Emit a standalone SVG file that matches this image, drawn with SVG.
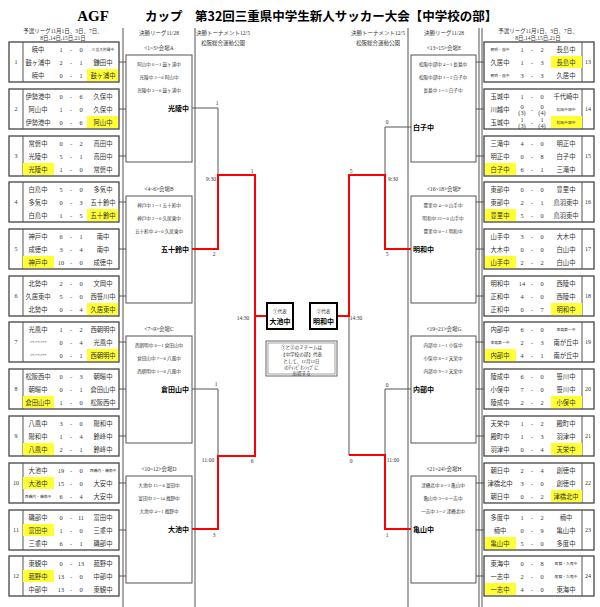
<svg xmlns="http://www.w3.org/2000/svg" width="600" height="607" viewBox="0 0 600 607">
<style>
text{font-family:"Liberation Serif","Noto Sans CJK JP",serif;fill:#333}
.t{font-size:6.3px;text-anchor:middle}
.ts{font-size:3.8px;text-anchor:middle}
.n{font-size:6px;text-anchor:middle}
.h{font-size:5.5px;text-anchor:middle}
.m{font-size:4.6px;text-anchor:middle}
.w{font-size:7px;font-weight:bold;fill:#000;font-family:"Noto Sans CJK JP",sans-serif}
.gb{fill:#fff;stroke:#444;stroke-width:1.3}
.sb{fill:#fff;stroke:#555;stroke-width:1}
.ln{stroke:#555;stroke-width:1;fill:none}
.rd{stroke:#f00;stroke-width:2;fill:none}
.hl{fill:#ffff33}
.lb{font-size:5.5px;text-anchor:middle;fill:#333}
</style>
<rect width="600" height="607" fill="#fff"/>
<text x="93" y="21" style="font-size:15px;font-weight:bold;fill:#000;text-anchor:middle;font-family:'Liberation Serif',serif">AGF</text>
<text x="145" y="21" style="font-size:12.5px;font-weight:bold;fill:#000;font-family:'Noto Sans CJK JP',sans-serif">カップ　第32回三重県中学生新人サッカー大会【中学校の部】</text>
<g id="headers">
<text class="h" x="63" y="33">予選リーグ11月1日、3日、7日、</text><text class="h" x="63" y="40">8日,14日,15日,21日</text>
<text class="h" x="159" y="35">決勝リーグ11/28</text><text class="h" x="159" y="50">&lt;1~3&gt;会場A</text>
<text class="h" x="223" y="35">決勝トーナメント12/5</text><text class="h" x="223" y="45">松阪総合運動公園</text>
<text class="h" x="378" y="35">決勝トーナメント12/5</text><text class="h" x="378" y="45">松阪総合運動公園</text>
<text class="h" x="444" y="35">決勝リーグ11/28</text><text class="h" x="444" y="50">&lt;13~15&gt;会場E</text>
<text class="h" x="538" y="33">予選リーグ11月1日、3日、7日、</text><text class="h" x="538" y="40">8日,14日,15日,21日</text>
<text class="h" x="159" y="191">&lt;4~6&gt;会場B</text><text class="h" x="159" y="331">&lt;7~9&gt;会場C</text><text class="h" x="159" y="471">&lt;10~12&gt;会場D</text>
<text class="h" x="444" y="191">&lt;16~18&gt;会場F</text><text class="h" x="444" y="331">&lt;19~21&gt;会場G</text><text class="h" x="444" y="471">&lt;21~24&gt;会場H</text>
</g>
<g id="connectors">
<line class="ln" x1="123" y1="28" x2="123" y2="607"/><line class="ln" x1="195" y1="28" x2="195" y2="607"/>
<line class="ln" x1="408" y1="28" x2="408" y2="607"/><line class="ln" x1="479" y1="28" x2="479" y2="607"/><line class="ln" x1="482" y1="28" x2="482" y2="607"/>
<path class="ln" d="M119 62H126M119 109H126M119 156H126M119 202H126M119 249H126M119 296H126M119 342H126M119 389H126M119 436H126M119 483H126M119 530H126M119 576H126"/>
<path class="ln" d="M476 62H484M476 109H484M476 156H484M476 202H484M476 249H484M476 296H484M476 342H484M476 389H484M476 436H484M476 483H484M476 530H484M476 576H484"/>
<path class="ln" d="M192 108H218V175M192 389H218V456"/>
<path class="rd" d="M192 249H218V175H255V456H218V529H192M255 316H267"/>
<path class="ln" d="M411 127H385V175M411 389H385V455M349 316V455"/>
<path class="rd" d="M411 249H385V175H349V316H337M411 529H385V455H349"/>
<text class="lb" x="217" y="105">1</text><text class="lb" x="214" y="256">2</text><text class="lb" x="211" y="181">9:30</text>
<text class="lb" x="252" y="173">1</text><text class="lb" x="243" y="320">14:30</text><text class="lb" x="252" y="463">6</text>
<text class="lb" x="216" y="386">1</text><text class="lb" x="208" y="462">11:00</text><text class="lb" x="214" y="537">3</text>
<text class="lb" x="387" y="124">0</text><text class="lb" x="387" y="256">5</text><text class="lb" x="393" y="181">9:30</text>
<text class="lb" x="351" y="173">5</text><text class="lb" x="356" y="320">14:30</text><text class="lb" x="351" y="463">0</text>
<text class="lb" x="387" y="387">0</text><text class="lb" x="393" y="462">11:00</text><text class="lb" x="387" y="537">1</text>
</g>
<g id="final1"><rect x="267" y="303" width="26" height="26" fill="#fff" stroke="#000" stroke-width="2"/><text class="m" x="280" y="313">①代表</text><text class="w" x="280" y="324" text-anchor="middle">大池中</text></g>
<g id="final2"><rect x="310" y="303" width="27" height="26" fill="#fff" stroke="#000" stroke-width="2"/><text class="m" x="323.5" y="313">②代表</text><text class="w" x="323.5" y="324" text-anchor="middle">明和中</text></g>
<g id="note"><rect x="266" y="341" width="71" height="35" fill="#fff" stroke="#666" stroke-width="1"/><rect x="268" y="343" width="67" height="31" fill="none" stroke="#666" stroke-width="0.6"/>
<text class="m" x="301.5" y="349">①と②の２チームは</text><text class="m" x="301.5" y="356">【中学校の部】代表</text><text class="m" x="301.5" y="363">として、12月12日</text><text class="m" x="301.5" y="369">のﾁｬﾝﾋﾟｵﾝｼｯﾌﾟに</text><text class="m" x="301.5" y="375">出場する</text></g>
<g id="stageA"><rect class="sb" x="126" y="55" width="66" height="107"/><text class="m" x="159" y="66">阿山中 6－1 鼓ヶ浦中</text><text class="m" x="159" y="79">光陵中 2－0 阿山中</text><text class="m" x="159" y="92">光陵中 3－0 鼓ヶ浦中</text><text class="w" x="189" y="111" text-anchor="end">光陵中</text></g>
<g id="stageB"><rect class="sb" x="126" y="196" width="66" height="107"/><text class="m" x="159" y="207">神戸中 1－1 五十鈴中</text><text class="m" x="159" y="220">神戸中 2－0 久居東中</text><text class="m" x="159" y="233">五十鈴中 4－0 久居東中</text><text class="w" x="189" y="252" text-anchor="end">五十鈴中</text></g>
<g id="stageC"><rect class="sb" x="126" y="336" width="66" height="107"/><text class="m" x="159" y="347">西朝明中 0－1 倉田山中</text><text class="m" x="159" y="360">倉田山中 7－0 八風中</text><text class="m" x="159" y="373">西朝明中 1－0 八風中</text><text class="w" x="189" y="392" text-anchor="end">倉田山中</text></g>
<g id="stageD"><rect class="sb" x="126" y="476" width="66" height="107"/><text class="m" x="159" y="487">大池中 15－0 富田中</text><text class="m" x="159" y="500">富田中 3－14 菰野中</text><text class="m" x="159" y="513">大池中 4－1 菰野中</text><text class="w" x="189" y="532" text-anchor="end">大池中</text></g>
<g id="stageE"><rect class="sb" x="411" y="55" width="65" height="107"/><text class="m" x="443" y="66">松阪中部中 4－1 長島中</text><text class="m" x="443" y="79">松阪中部中 1－2 白子中</text><text class="m" x="443" y="92">長島中 1－5 白子中</text><text class="w" x="413" y="130">白子中</text></g>
<g id="stageF"><rect class="sb" x="411" y="196" width="65" height="107"/><text class="m" x="443" y="207">豊里中 4－0 山手中</text><text class="m" x="443" y="220">明和中 22－0 山手中</text><text class="m" x="443" y="233">豊里中 0－1 明和中</text><text class="w" x="413" y="252">明和中</text></g>
<g id="stageG"><rect class="sb" x="411" y="336" width="65" height="107"/><text class="m" x="443" y="347">内部中 1－1 小俣中</text><text class="m" x="443" y="360">小俣中 8－2 天栄中</text><text class="m" x="443" y="373">内部中 9－2 天栄中</text><text class="w" x="413" y="392">内部中</text></g>
<g id="stageH"><rect class="sb" x="411" y="476" width="65" height="107"/><text class="m" x="443" y="487">津橋北中 0－3 亀山中</text><text class="m" x="443" y="500">亀山中 3－0 一志中</text><text class="m" x="443" y="513">一志中 3－2 津橋北中</text><text class="w" x="413" y="532">亀山中</text></g>

<g id="g1" transform="translate(0,42)"><rect class="gb" x="9" width="110" height="40"/><line class="ln" x1="23" y1="0" x2="23" y2="40"/><text class="n" x="16" y="22">1</text><rect class="hl" x="87" y="27" width="31" height="12"/>
<text class="t" x="38" y="9.5">暁中</text><text class="t" x="61" y="9.5">1</text><text class="t" x="71" y="9.5">-</text><text class="t" x="81" y="9.5">0</text><text class="ts" x="103" y="9">三重大附属中</text>
<text class="t" x="38" y="22.5">鼓ヶ浦中</text><text class="t" x="61" y="22.5">2</text><text class="t" x="71" y="22.5">-</text><text class="t" x="81" y="22.5">1</text><text class="t" x="103" y="22.5">鎌田中</text>
<text class="t" x="38" y="35.5">暁中</text><text class="t" x="61" y="35.5">0</text><text class="t" x="71" y="35.5">-</text><text class="t" x="81" y="35.5">1</text><text class="t" x="103" y="35.5">鼓ヶ浦中</text></g>
<g id="g2" transform="translate(0,89)"><rect class="gb" x="9" width="110" height="40"/><line class="ln" x1="23" y1="0" x2="23" y2="40"/><text class="n" x="16" y="22">2</text><rect class="hl" x="87" y="27" width="31" height="12"/>
<text class="t" x="38" y="9.5">伊勢港中</text><text class="t" x="61" y="9.5">0</text><text class="t" x="71" y="9.5">-</text><text class="t" x="81" y="9.5">6</text><text class="t" x="103" y="9.5">久保中</text>
<text class="t" x="38" y="22.5">阿山中</text><text class="t" x="61" y="22.5">1</text><text class="t" x="71" y="22.5">-</text><text class="t" x="81" y="22.5">0</text><text class="t" x="103" y="22.5">久保中</text>
<text class="t" x="38" y="35.5">伊勢港中</text><text class="t" x="61" y="35.5">0</text><text class="t" x="71" y="35.5">-</text><text class="t" x="81" y="35.5">6</text><text class="t" x="103" y="35.5">阿山中</text></g>
<g id="g3" transform="translate(0,136)"><rect class="gb" x="9" width="110" height="40"/><line class="ln" x1="23" y1="0" x2="23" y2="40"/><text class="n" x="16" y="22">3</text><rect class="hl" x="23" y="27" width="31" height="12"/>
<text class="t" x="38" y="9.5">常磐中</text><text class="t" x="61" y="9.5">0</text><text class="t" x="71" y="9.5">-</text><text class="t" x="81" y="9.5">2</text><text class="t" x="103" y="9.5">高田中</text>
<text class="t" x="38" y="22.5">光陵中</text><text class="t" x="61" y="22.5">5</text><text class="t" x="71" y="22.5">-</text><text class="t" x="81" y="22.5">1</text><text class="t" x="103" y="22.5">高田中</text>
<text class="t" x="38" y="35.5">光陵中</text><text class="t" x="61" y="35.5">1</text><text class="t" x="71" y="35.5">-</text><text class="t" x="81" y="35.5">0</text><text class="t" x="103" y="35.5">常磐中</text></g>
<g id="g4" transform="translate(0,182)"><rect class="gb" x="9" width="110" height="40"/><line class="ln" x1="23" y1="0" x2="23" y2="40"/><text class="n" x="16" y="22">4</text><rect class="hl" x="87" y="27" width="31" height="12"/>
<text class="t" x="38" y="9.5">白鳥中</text><text class="t" x="61" y="9.5">5</text><text class="t" x="71" y="9.5">-</text><text class="t" x="81" y="9.5">0</text><text class="t" x="103" y="9.5">多気中</text>
<text class="t" x="38" y="22.5">多気中</text><text class="t" x="61" y="22.5">0</text><text class="t" x="71" y="22.5">-</text><text class="t" x="81" y="22.5">3</text><text class="t" x="103" y="22.5">五十鈴中</text>
<text class="t" x="38" y="35.5">白鳥中</text><text class="t" x="61" y="35.5">1</text><text class="t" x="71" y="35.5">-</text><text class="t" x="81" y="35.5">5</text><text class="t" x="103" y="35.5">五十鈴中</text></g>
<g id="g5" transform="translate(0,229)"><rect class="gb" x="9" width="110" height="40"/><line class="ln" x1="23" y1="0" x2="23" y2="40"/><text class="n" x="16" y="22">5</text><rect class="hl" x="23" y="27" width="31" height="12"/>
<text class="t" x="38" y="9.5">神戸中</text><text class="t" x="61" y="9.5">6</text><text class="t" x="71" y="9.5">-</text><text class="t" x="81" y="9.5">1</text><text class="t" x="103" y="9.5">南中</text>
<text class="t" x="38" y="22.5">成徳中</text><text class="t" x="61" y="22.5">3</text><text class="t" x="71" y="22.5">-</text><text class="t" x="81" y="22.5">4</text><text class="t" x="103" y="22.5">南中</text>
<text class="t" x="38" y="35.5">神戸中</text><text class="t" x="61" y="35.5">10</text><text class="t" x="71" y="35.5">-</text><text class="t" x="81" y="35.5">0</text><text class="t" x="103" y="35.5">成徳中</text></g>
<g id="g6" transform="translate(0,276)"><rect class="gb" x="9" width="110" height="40"/><line class="ln" x1="23" y1="0" x2="23" y2="40"/><text class="n" x="16" y="22">6</text><rect class="hl" x="87" y="27" width="31" height="12"/>
<text class="t" x="38" y="9.5">北勢中</text><text class="t" x="61" y="9.5">2</text><text class="t" x="71" y="9.5">-</text><text class="t" x="81" y="9.5">0</text><text class="t" x="103" y="9.5">文岡中</text>
<text class="t" x="38" y="22.5">久居東中</text><text class="t" x="61" y="22.5">5</text><text class="t" x="71" y="22.5">-</text><text class="t" x="81" y="22.5">0</text><text class="t" x="103" y="22.5">西笹川中</text>
<text class="t" x="38" y="35.5">北勢中</text><text class="t" x="61" y="35.5">0</text><text class="t" x="71" y="35.5">-</text><text class="t" x="81" y="35.5">4</text><text class="t" x="103" y="35.5">久居東中</text></g>
<g id="g7" transform="translate(0,322)"><rect class="gb" x="9" width="110" height="40"/><line class="ln" x1="23" y1="0" x2="23" y2="40"/><text class="n" x="16" y="22">7</text><rect class="hl" x="87" y="27" width="31" height="12"/>
<text class="t" x="38" y="9.5">光風中</text><text class="t" x="61" y="9.5">1</text><text class="t" x="71" y="9.5">-</text><text class="t" x="81" y="9.5">2</text><text class="t" x="103" y="9.5">西朝明中</text>
<text class="ts" x="38" y="22">-**-**-***</text><text class="t" x="61" y="22.5">0</text><text class="t" x="71" y="22.5">-</text><text class="t" x="81" y="22.5">4</text><text class="t" x="103" y="22.5">光風中</text>
<text class="ts" x="38" y="35">-**-**-***</text><text class="t" x="61" y="35.5">0</text><text class="t" x="71" y="35.5">-</text><text class="t" x="81" y="35.5">1</text><text class="t" x="103" y="35.5">西朝明中</text></g>
<g id="g8" transform="translate(0,369)"><rect class="gb" x="9" width="110" height="40"/><line class="ln" x1="23" y1="0" x2="23" y2="40"/><text class="n" x="16" y="22">8</text><rect class="hl" x="23" y="27" width="31" height="12"/>
<text class="t" x="38" y="9.5">松阪西中</text><text class="t" x="61" y="9.5">0</text><text class="t" x="71" y="9.5">-</text><text class="t" x="81" y="9.5">3</text><text class="t" x="103" y="9.5">朝暘中</text>
<text class="t" x="38" y="22.5">朝暘中</text><text class="t" x="61" y="22.5">0</text><text class="t" x="71" y="22.5">-</text><text class="t" x="81" y="22.5">1</text><text class="t" x="103" y="22.5">倉田山中</text>
<text class="t" x="38" y="35.5">倉田山中</text><text class="t" x="61" y="35.5">1</text><text class="t" x="71" y="35.5">-</text><text class="t" x="81" y="35.5">0</text><text class="t" x="103" y="35.5">松阪西中</text></g>
<g id="g9" transform="translate(0,416)"><rect class="gb" x="9" width="110" height="40"/><line class="ln" x1="23" y1="0" x2="23" y2="40"/><text class="n" x="16" y="22">9</text><rect class="hl" x="23" y="27" width="31" height="12"/>
<text class="t" x="38" y="9.5">八風中</text><text class="t" x="61" y="9.5">3</text><text class="t" x="71" y="9.5">-</text><text class="t" x="81" y="9.5">0</text><text class="t" x="103" y="9.5">陽和中</text>
<text class="t" x="38" y="22.5">陽和中</text><text class="t" x="61" y="22.5">1</text><text class="t" x="71" y="22.5">-</text><text class="t" x="81" y="22.5">4</text><text class="t" x="103" y="22.5">鈴峰中</text>
<text class="t" x="38" y="35.5">八風中</text><text class="t" x="61" y="35.5">2</text><text class="t" x="71" y="35.5">-</text><text class="t" x="81" y="35.5">1</text><text class="t" x="103" y="35.5">鈴峰中</text></g>
<g id="g10" transform="translate(0,463)"><rect class="gb" x="9" width="110" height="40"/><line class="ln" x1="23" y1="0" x2="23" y2="40"/><text class="n" x="16" y="22">10</text><rect class="hl" x="23" y="14" width="31" height="12"/>
<text class="t" x="38" y="9.5">大池中</text><text class="t" x="61" y="9.5">19</text><text class="t" x="71" y="9.5">-</text><text class="t" x="81" y="9.5">0</text><text class="ts" x="103" y="9">西橋内・橋南中</text>
<text class="t" x="38" y="22.5">大池中</text><text class="t" x="61" y="22.5">15</text><text class="t" x="71" y="22.5">-</text><text class="t" x="81" y="22.5">0</text><text class="t" x="103" y="22.5">大安中</text>
<text class="ts" x="38" y="35">西橋内・橋南中</text><text class="t" x="61" y="35.5">6</text><text class="t" x="71" y="35.5">-</text><text class="t" x="81" y="35.5">4</text><text class="t" x="103" y="35.5">大安中</text></g>
<g id="g11" transform="translate(0,510)"><rect class="gb" x="9" width="110" height="40"/><line class="ln" x1="23" y1="0" x2="23" y2="40"/><text class="n" x="16" y="22">11</text><rect class="hl" x="23" y="14" width="31" height="12"/>
<text class="t" x="38" y="9.5">磯部中</text><text class="t" x="61" y="9.5">0</text><text class="t" x="71" y="9.5">-</text><text class="t" x="81" y="9.5">11</text><text class="t" x="103" y="9.5">富田中</text>
<text class="t" x="38" y="22.5">富田中</text><text class="t" x="61" y="22.5">1</text><text class="t" x="71" y="22.5">-</text><text class="t" x="81" y="22.5">0</text><text class="t" x="103" y="22.5">三重中</text>
<text class="t" x="38" y="35.5">三重中</text><text class="t" x="61" y="35.5">6</text><text class="t" x="71" y="35.5">-</text><text class="t" x="81" y="35.5">1</text><text class="t" x="103" y="35.5">磯部中</text></g>
<g id="g12" transform="translate(0,556)"><rect class="gb" x="9" width="110" height="40"/><line class="ln" x1="23" y1="0" x2="23" y2="40"/><text class="n" x="16" y="22">12</text><rect class="hl" x="23" y="14" width="31" height="12"/>
<text class="t" x="38" y="9.5">東観中</text><text class="t" x="61" y="9.5">0</text><text class="t" x="71" y="9.5">-</text><text class="t" x="81" y="9.5">13</text><text class="t" x="103" y="9.5">菰野中</text>
<text class="t" x="38" y="22.5">菰野中</text><text class="t" x="61" y="22.5">13</text><text class="t" x="71" y="22.5">-</text><text class="t" x="81" y="22.5">0</text><text class="t" x="103" y="22.5">中部中</text>
<text class="t" x="38" y="35.5">中部中</text><text class="t" x="61" y="35.5">13</text><text class="t" x="71" y="35.5">-</text><text class="t" x="81" y="35.5">0</text><text class="t" x="103" y="35.5">東観中</text></g>

<g id="g13" transform="translate(0,42)"><rect class="gb" x="484" width="110" height="40"/><line class="ln" x1="582" y1="0" x2="582" y2="40"/><text class="n" x="588" y="22">13</text><rect class="hl" x="551" y="14" width="31" height="12"/>
<text class="ts" x="500" y="9">朝明・桜中</text><text class="t" x="522" y="9.5">1</text><text class="t" x="532" y="9.5">-</text><text class="t" x="542" y="9.5">2</text><text class="t" x="566" y="9.5">長島中</text>
<text class="t" x="500" y="22.5">久居中</text><text class="t" x="522" y="22.5">1</text><text class="t" x="532" y="22.5">-</text><text class="t" x="542" y="22.5">3</text><text class="t" x="566" y="22.5">長島中</text>
<text class="ts" x="500" y="35">朝明・桜中</text><text class="t" x="522" y="35.5">3</text><text class="t" x="532" y="35.5">-</text><text class="t" x="542" y="35.5">3</text><text class="t" x="566" y="35.5">久居中</text></g>
<g id="g14" transform="translate(0,89)"><rect class="gb" x="484" width="110" height="40"/><line class="ln" x1="582" y1="0" x2="582" y2="40"/><text class="n" x="588" y="22">14</text><rect class="hl" x="551" y="27" width="31" height="12"/>
<text class="t" x="500" y="9.5">玉城中</text><text class="t" x="522" y="9.5">1</text><text class="t" x="532" y="9.5">-</text><text class="t" x="542" y="9.5">0</text><text class="t" x="566" y="9.5">千代崎中</text>
<text class="t" x="500" y="22.5">川越中</text><text class="t" x="522" y="20">0</text><text class="t" x="522" y="26">(3)</text><text class="t" x="532" y="22.5">-</text><text class="t" x="542" y="20">0</text><text class="t" x="542" y="26">(4)</text><text class="ts" x="566" y="22">松阪中部中</text>
<text class="t" x="500" y="35.5">玉城中</text><text class="t" x="522" y="33">1</text><text class="t" x="522" y="39">(3)</text><text class="t" x="532" y="35.5">-</text><text class="t" x="542" y="33">1</text><text class="t" x="542" y="39">(4)</text><text class="ts" x="566" y="35">松阪中部中</text></g>
<g id="g15" transform="translate(0,136)"><rect class="gb" x="484" width="110" height="40"/><line class="ln" x1="582" y1="0" x2="582" y2="40"/><text class="n" x="588" y="22">15</text><rect class="hl" x="485" y="27" width="31" height="12"/>
<text class="t" x="500" y="9.5">三滝中</text><text class="t" x="522" y="9.5">4</text><text class="t" x="532" y="9.5">-</text><text class="t" x="542" y="9.5">0</text><text class="t" x="566" y="9.5">明正中</text>
<text class="t" x="500" y="22.5">明正中</text><text class="t" x="522" y="22.5">0</text><text class="t" x="532" y="22.5">-</text><text class="t" x="542" y="22.5">8</text><text class="t" x="566" y="22.5">白子中</text>
<text class="t" x="500" y="35.5">白子中</text><text class="t" x="522" y="35.5">6</text><text class="t" x="532" y="35.5">-</text><text class="t" x="542" y="35.5">1</text><text class="t" x="566" y="35.5">三滝中</text></g>
<g id="g16" transform="translate(0,182)"><rect class="gb" x="484" width="110" height="40"/><line class="ln" x1="582" y1="0" x2="582" y2="40"/><text class="n" x="588" y="22">16</text><rect class="hl" x="485" y="27" width="31" height="12"/>
<text class="t" x="500" y="9.5">東部中</text><text class="t" x="522" y="9.5">0</text><text class="t" x="532" y="9.5">-</text><text class="t" x="542" y="9.5">0</text><text class="t" x="566" y="9.5">豊里中</text>
<text class="t" x="500" y="22.5">東部中</text><text class="t" x="522" y="22.5">2</text><text class="t" x="532" y="22.5">-</text><text class="t" x="542" y="22.5">1</text><text class="t" x="566" y="22.5">鳥羽東中</text>
<text class="t" x="500" y="35.5">豊里中</text><text class="t" x="522" y="35.5">5</text><text class="t" x="532" y="35.5">-</text><text class="t" x="542" y="35.5">0</text><text class="t" x="566" y="35.5">鳥羽東中</text></g>
<g id="g17" transform="translate(0,229)"><rect class="gb" x="484" width="110" height="40"/><line class="ln" x1="582" y1="0" x2="582" y2="40"/><text class="n" x="588" y="22">17</text><rect class="hl" x="485" y="27" width="31" height="12"/>
<text class="t" x="500" y="9.5">山手中</text><text class="t" x="522" y="9.5">3</text><text class="t" x="532" y="9.5">-</text><text class="t" x="542" y="9.5">0</text><text class="t" x="566" y="9.5">大木中</text>
<text class="t" x="500" y="22.5">大木中</text><text class="t" x="522" y="22.5">0</text><text class="t" x="532" y="22.5">-</text><text class="t" x="542" y="22.5">0</text><text class="t" x="566" y="22.5">白山中</text>
<text class="t" x="500" y="35.5">山手中</text><text class="t" x="522" y="35.5">2</text><text class="t" x="532" y="35.5">-</text><text class="t" x="542" y="35.5">2</text><text class="t" x="566" y="35.5">白山中</text></g>
<g id="g18" transform="translate(0,276)"><rect class="gb" x="484" width="110" height="40"/><line class="ln" x1="582" y1="0" x2="582" y2="40"/><text class="n" x="588" y="22">18</text><rect class="hl" x="551" y="27" width="31" height="12"/>
<text class="t" x="500" y="9.5">明和中</text><text class="t" x="522" y="9.5">14</text><text class="t" x="532" y="9.5">-</text><text class="t" x="542" y="9.5">0</text><text class="t" x="566" y="9.5">西陵中</text>
<text class="t" x="500" y="22.5">正和中</text><text class="t" x="522" y="22.5">4</text><text class="t" x="532" y="22.5">-</text><text class="t" x="542" y="22.5">0</text><text class="t" x="566" y="22.5">西陵中</text>
<text class="t" x="500" y="35.5">正和中</text><text class="t" x="522" y="35.5">0</text><text class="t" x="532" y="35.5">-</text><text class="t" x="542" y="35.5">7</text><text class="t" x="566" y="35.5">明和中</text></g>
<g id="g19" transform="translate(0,322)"><rect class="gb" x="484" width="110" height="40"/><line class="ln" x1="582" y1="0" x2="582" y2="40"/><text class="n" x="588" y="22">19</text><rect class="hl" x="485" y="27" width="31" height="12"/>
<text class="t" x="500" y="9.5">内部中</text><text class="t" x="522" y="9.5">6</text><text class="t" x="532" y="9.5">-</text><text class="t" x="542" y="9.5">0</text><text class="ts" x="566" y="9">東員第一中</text>
<text class="ts" x="500" y="22">東員第一中</text><text class="t" x="522" y="22.5">2</text><text class="t" x="532" y="22.5">-</text><text class="t" x="542" y="22.5">3</text><text class="t" x="566" y="22.5">南が丘中</text>
<text class="t" x="500" y="35.5">内部中</text><text class="t" x="522" y="35.5">4</text><text class="t" x="532" y="35.5">-</text><text class="t" x="542" y="35.5">1</text><text class="t" x="566" y="35.5">南が丘中</text></g>
<g id="g20" transform="translate(0,369)"><rect class="gb" x="484" width="110" height="40"/><line class="ln" x1="582" y1="0" x2="582" y2="40"/><text class="n" x="588" y="22">20</text><rect class="hl" x="551" y="27" width="31" height="12"/>
<text class="t" x="500" y="9.5">陵成中</text><text class="t" x="522" y="9.5">6</text><text class="t" x="532" y="9.5">-</text><text class="t" x="542" y="9.5">0</text><text class="t" x="566" y="9.5">笹川中</text>
<text class="t" x="500" y="22.5">小俣中</text><text class="t" x="522" y="22.5">7</text><text class="t" x="532" y="22.5">-</text><text class="t" x="542" y="22.5">0</text><text class="t" x="566" y="22.5">笹川中</text>
<text class="t" x="500" y="35.5">陵成中</text><text class="t" x="522" y="35.5">2</text><text class="t" x="532" y="35.5">-</text><text class="t" x="542" y="35.5">2</text><text class="t" x="566" y="35.5">小俣中</text></g>
<g id="g21" transform="translate(0,416)"><rect class="gb" x="484" width="110" height="40"/><line class="ln" x1="582" y1="0" x2="582" y2="40"/><text class="n" x="588" y="22">21</text><rect class="hl" x="551" y="27" width="31" height="12"/>
<text class="t" x="500" y="9.5">天栄中</text><text class="t" x="522" y="9.5">1</text><text class="t" x="532" y="9.5">-</text><text class="t" x="542" y="9.5">2</text><text class="t" x="566" y="9.5">殿町中</text>
<text class="t" x="500" y="22.5">殿町中</text><text class="t" x="522" y="22.5">1</text><text class="t" x="532" y="22.5">-</text><text class="t" x="542" y="22.5">3</text><text class="t" x="566" y="22.5">羽津中</text>
<text class="t" x="500" y="35.5">羽津中</text><text class="t" x="522" y="35.5">0</text><text class="t" x="532" y="35.5">-</text><text class="t" x="542" y="35.5">4</text><text class="t" x="566" y="35.5">天栄中</text></g>
<g id="g22" transform="translate(0,463)"><rect class="gb" x="484" width="110" height="40"/><line class="ln" x1="582" y1="0" x2="582" y2="40"/><text class="n" x="588" y="22">22</text><rect class="hl" x="551" y="27" width="31" height="12"/>
<text class="t" x="500" y="9.5">朝日中</text><text class="t" x="522" y="9.5">2</text><text class="t" x="532" y="9.5">-</text><text class="t" x="542" y="9.5">4</text><text class="t" x="566" y="9.5">創徳中</text>
<text class="t" x="500" y="22.5">津橋北中</text><text class="t" x="522" y="22.5">3</text><text class="t" x="532" y="22.5">-</text><text class="t" x="542" y="22.5">0</text><text class="t" x="566" y="22.5">創徳中</text>
<text class="t" x="500" y="35.5">朝日中</text><text class="t" x="522" y="35.5">0</text><text class="t" x="532" y="35.5">-</text><text class="t" x="542" y="35.5">2</text><text class="t" x="566" y="35.5">津橋北中</text></g>
<g id="g23" transform="translate(0,510)"><rect class="gb" x="484" width="110" height="40"/><line class="ln" x1="582" y1="0" x2="582" y2="40"/><text class="n" x="588" y="22">23</text><rect class="hl" x="485" y="27" width="31" height="12"/>
<text class="t" x="500" y="9.5">多度中</text><text class="t" x="522" y="9.5">1</text><text class="t" x="532" y="9.5">-</text><text class="t" x="542" y="9.5">2</text><text class="t" x="566" y="9.5">楠中</text>
<text class="t" x="500" y="22.5">楠中</text><text class="t" x="522" y="22.5">0</text><text class="t" x="532" y="22.5">-</text><text class="t" x="542" y="22.5">9</text><text class="t" x="566" y="22.5">亀山中</text>
<text class="t" x="500" y="35.5">亀山中</text><text class="t" x="522" y="35.5">5</text><text class="t" x="532" y="35.5">-</text><text class="t" x="542" y="35.5">0</text><text class="t" x="566" y="35.5">多度中</text></g>
<g id="g24" transform="translate(0,556)"><rect class="gb" x="484" width="110" height="40"/><line class="ln" x1="582" y1="0" x2="582" y2="40"/><text class="n" x="588" y="22">24</text><rect class="hl" x="485" y="27" width="31" height="12"/>
<text class="t" x="500" y="9.5">東海中</text><text class="t" x="522" y="9.5">0</text><text class="t" x="532" y="9.5">-</text><text class="t" x="542" y="9.5">8</text><text class="ts" x="566" y="9">尾鷲・九鬼中</text>
<text class="t" x="500" y="22.5">一志中</text><text class="t" x="522" y="22.5">2</text><text class="t" x="532" y="22.5">-</text><text class="t" x="542" y="22.5">0</text><text class="ts" x="566" y="22">尾鷲・九鬼中</text>
<text class="t" x="500" y="35.5">一志中</text><text class="t" x="522" y="35.5">4</text><text class="t" x="532" y="35.5">-</text><text class="t" x="542" y="35.5">0</text><text class="t" x="566" y="35.5">東海中</text></g>
</svg>
